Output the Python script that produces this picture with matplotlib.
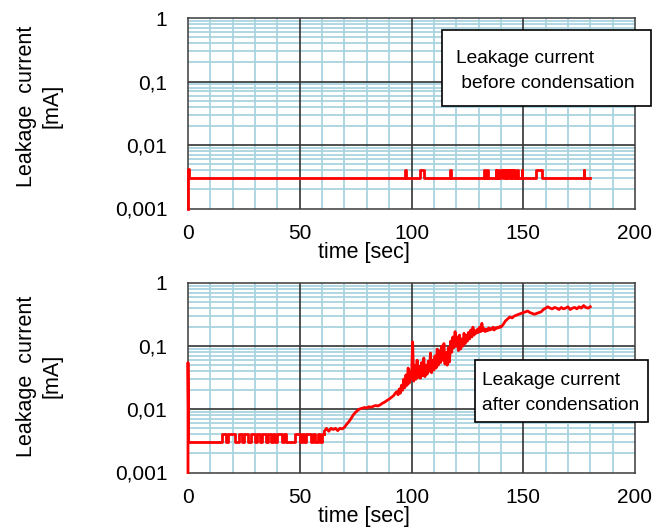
import matplotlib
matplotlib.use('Agg')
import matplotlib.pyplot as plt
from matplotlib.ticker import LogLocator, MultipleLocator, FuncFormatter, NullFormatter
from matplotlib.patches import Rectangle

plt.rcParams['font.family'] = ['Liberation Sans', 'DejaVu Sans']

# --- data: before condensation (baseline with short pulses) ---
top_base = 0.003
top_pulse = 0.004
top_end = 180
top_pulse_start = [97.1, 103.6, 117.2, 132.5, 133.9, 137.7, 138.9, 140.0, 141.3, 142.4, 143.6, 144.6, 145.8, 147.4, 149.3, 155.6, 177.0]
top_pulse_stop = [97.5, 105.8, 117.8, 132.8, 134.2, 138.0, 139.2, 141.0, 142.1, 143.3, 144.3, 145.5, 146.1, 147.7, 149.6, 158.6, 177.3]

# --- data: after condensation ---
# low-level part, 1 s steps from t=0
low_vals = [0.003] * 15 + [
    0.004, 0.004, 0.003, 0.004, 0.004, 0.004, 0.003, 0.003, 0.004, 0.003,
    0.004, 0.004, 0.003, 0.004, 0.004, 0.003, 0.004, 0.003, 0.004, 0.004,
    0.003, 0.004, 0.003, 0.004, 0.003, 0.004, 0.004, 0.003, 0.004, 0.003,
    0.003, 0.003, 0.003, 0.004, 0.004, 0.003, 0.004, 0.003, 0.004, 0.004,
    0.003, 0.004, 0.003, 0.004, 0.003, 0.004, 0.004]
# rise, 1 s steps, t=61..93
rise_v = [
    0.0045, 0.0050, 0.0045, 0.0050, 0.0048, 0.0050, 0.0046, 0.0050, 0.0049, 0.0052,  # 61-70
    0.0058, 0.0064, 0.0072, 0.0082, 0.0090, 0.0097, 0.0102, 0.0104, 0.0107, 0.0105,  # 71-80
    0.0110, 0.0108, 0.0112, 0.0115, 0.0113, 0.0118, 0.0125, 0.0130, 0.0138, 0.0145,  # 81-90
    0.0155, 0.0165, 0.0185]                                                          # 91-93
# noisy part, 0.5 s steps, t=93.5..140
noisy_v = [
    0.019, 0.017, 0.021, 0.018, 0.024, 0.020, 0.030, 0.022, 0.035, 0.024,  # 93.5-98
    0.045, 0.026, 0.040, 0.030, 0.117, 0.028, 0.050, 0.030, 0.060, 0.032,  # 98.5-103
    0.048, 0.031, 0.055, 0.034, 0.065, 0.033, 0.050, 0.036, 0.058, 0.040,  # 103.5-108
    0.078, 0.038, 0.060, 0.042, 0.070, 0.045, 0.090, 0.050, 0.085, 0.055,  # 108.5-113
    0.100, 0.060, 0.110, 0.052, 0.080, 0.050, 0.095, 0.056, 0.120, 0.080,  # 113.5-118
    0.140, 0.095, 0.170, 0.100, 0.140, 0.085, 0.150, 0.090, 0.130, 0.100,  # 118.5-123
    0.160, 0.110, 0.150, 0.120, 0.165, 0.130, 0.180, 0.140, 0.200, 0.150,  # 123.5-128
    0.175, 0.160, 0.185, 0.165, 0.200, 0.170, 0.230, 0.175, 0.190, 0.170,  # 128.5-133
    0.185, 0.175, 0.195, 0.180, 0.190, 0.185, 0.200, 0.180, 0.195, 0.190,  # 133.5-138
    0.200, 0.195, 0.205, 0.200]                                            # 138.5-140
# tail, 1 s steps, t=141..180
tail_v = [
    0.22, 0.25, 0.27, 0.29, 0.28, 0.30, 0.31, 0.32, 0.33, 0.34,  # 141-150
    0.35, 0.36, 0.34, 0.33, 0.32, 0.33, 0.34, 0.35, 0.38, 0.40,  # 151-160
    0.42, 0.40, 0.39, 0.41, 0.40, 0.38, 0.41, 0.39, 0.40, 0.42,  # 161-170
    0.38, 0.40, 0.41, 0.39, 0.42, 0.40, 0.44, 0.41, 0.40, 0.42]  # 171-180
start_spike = 0.055

x_ticks = [0, 50, 100, 150, 200]
y_decades = [0.001, 0.01, 0.1, 1]
y_labels = {1: '1', 0.1: '0,1', 0.01: '0,01', 0.001: '0,001'}

red = '#ff0000'
fig = plt.figure(figsize=(6.67, 5.29), dpi=100)
ax1 = fig.add_axes([188 / 667, 1 - 208.5 / 529, 447 / 667, 190.5 / 529])
ax2 = fig.add_axes([188 / 667, 1 - 472.5 / 529, 447 / 667, 189.5 / 529])


def style(ax):
    ax.set_yscale('log')
    ax.set_xlim(0, 200)
    ax.set_ylim(0.001, 1)
    ax.set_xticks(x_ticks)
    ax.xaxis.set_minor_locator(MultipleLocator(10))
    ax.yaxis.set_major_locator(LogLocator(base=10))
    ax.yaxis.set_minor_locator(LogLocator(base=10, subs=range(2, 10)))
    ax.yaxis.set_minor_formatter(NullFormatter())
    ax.yaxis.set_major_formatter(FuncFormatter(lambda v, p: y_labels.get(round(v, 3), '')))
    ax.tick_params(which='both', length=0, labelsize=15)
    ax.tick_params(axis='y', pad=15)
    ax.tick_params(axis='x', pad=11)
    ax.grid(which='minor', color='#a9d3df', lw=1.3)
    ax.set_axisbelow(True)
    # major grid drawn on top of the light-blue minor grid
    for xv in x_ticks[1:-1]:
        ax.axvline(xv, color='#333333', lw=1.2, zorder=1)
    for yv in y_decades[1:-1]:
        ax.axhline(yv, color='#333333', lw=1.2, zorder=1)
    for s in ax.spines.values():
        s.set_color('#3a3a3a')
        s.set_linewidth(1.1)


style(ax1)
style(ax2)

# top curve
xs = [0, 0, 0.3, 0.3]
ys = [0.001, 0.0042, 0.0042, top_base]
for a, b in zip(top_pulse_start, top_pulse_stop):
    xs += [a, a, b, b]
    ys += [top_base, top_pulse, top_pulse, top_base]
xs.append(top_end)
ys.append(top_base)
ax1.plot(xs, ys, color=red, lw=2, clip_on=False, zorder=3)

# bottom curve
n_low = len(low_vals)
ax2.plot([0, 0, 0.3], [0.001, start_spike, 0.003], color=red, lw=2, clip_on=False, zorder=3)
ax2.plot(range(n_low), low_vals, color=red, lw=2, drawstyle='steps-post', zorder=3)
rest_t = ([n_low - 1] + list(range(61, 61 + len(rise_v)))
          + [93.5 + 0.5 * i for i in range(len(noisy_v))]
          + list(range(141, 141 + len(tail_v))))
rest_v = [low_vals[-1]] + rise_v + noisy_v + tail_v
ax2.plot(rest_t, rest_v, color=red, lw=2, zorder=3)

# axis titles
for yc, base in [(106, 258), (376, 522)]:
    fig.text(39 / 667, 1 - yc / 529, 'Leakage  current\n[mA]', rotation=90,
             ha='center', va='center', multialignment='center', fontsize=15.5, linespacing=1.25)
    fig.text(318 / 667, 1 - base / 529, 'time [sec]', ha='left', va='baseline', fontsize=15.5)

# annotation boxes (pixel coords of the reference)
boxes = [(441.5, 30, 651, 106, [('Leakage current', 456, 63), (' before condensation', 456, 88)]),
         (475, 360, 648, 422, [('Leakage current', 482.5, 385), ('after condensation', 482.5, 410)])]
for x0, y0, x1, y1, lines in boxes:
    fig.add_artist(Rectangle((x0 / 667, 1 - y1 / 529), (x1 - x0) / 667, (y1 - y0) / 529,
                             transform=fig.transFigure, facecolor='white', edgecolor='black', lw=1.2))
    for txt, tx, ty in lines:
        fig.text(tx / 667, 1 - ty / 529, txt, ha='left', va='baseline', fontsize=13.8)

fig.savefig('out.png', dpi=100)
